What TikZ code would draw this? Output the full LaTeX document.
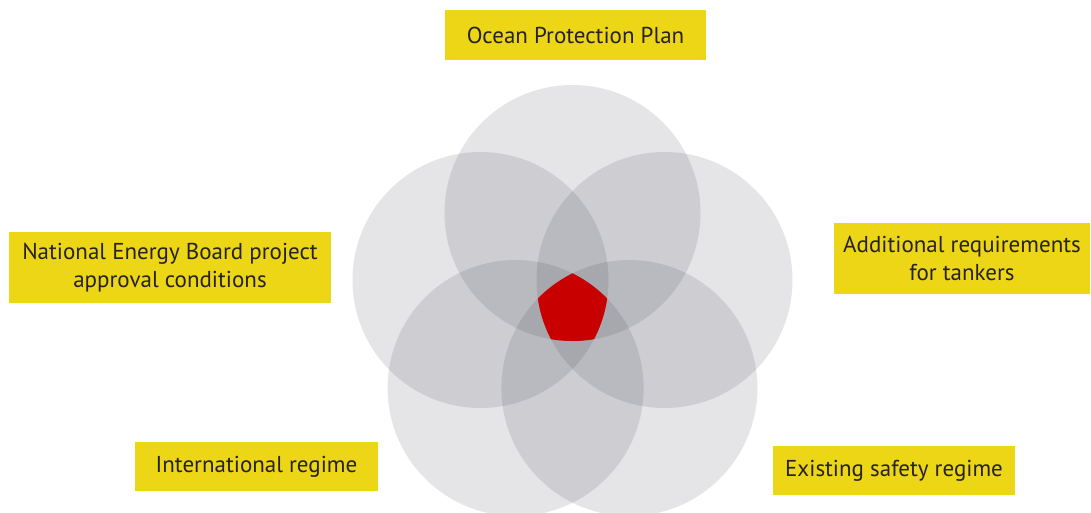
\documentclass[tikz,border=0pt]{standalone}
\usepackage{fontspec}
\setmainfont{PT Sans}
\definecolor{labelyellow}{RGB}{237,214,22}
\definecolor{labeltext}{RGB}{38,34,34}
\definecolor{coreRed}{RGB}{200,0,0}
\definecolor{ringgray}{RGB}{20,25,40}
\begin{document}
\begin{tikzpicture}[x=1pt,y=-1pt,
  ring/.style={fill=ringgray,fill opacity=0.11,draw=none},
  tag/.style={fill=labelyellow,text=labeltext,inner sep=0pt,align=center,
    font=\fontsize{23}{28}\selectfont}]
\useasboundingbox[fill=white] (0,0) rectangle (1091,512);
% circles
\coordinate (cT) at (572.5,213);
\coordinate (cL) at (480.5,280);
\coordinate (cR) at (664.5,280);
\coordinate (cBL) at (515.6,388);
\coordinate (cBR) at (629.4,388);
\foreach \c in {cT,cL,cR,cBL,cBR}{\fill[ring] (\c) circle[radius=128];}
% central intersection
\begin{scope}
  \clip (cT) circle[radius=128];
  \clip (cL) circle[radius=128];
  \clip (cR) circle[radius=128];
  \clip (cBL) circle[radius=128];
  \fill[coreRed] (cBR) circle[radius=128];
\end{scope}
% labels
\node[tag,minimum width=261,minimum height=50] (ocean) at (575.5,35) {Ocean Protection Plan};
\node[tag,minimum width=322,minimum height=71] (neb) at (170,267.5) {National Energy Board project\\approval conditions};
\node[tag,minimum width=256,minimum height=71] (add) at (962,258.5) {Additional requirements\\for tankers};
\node[tag,minimum width=243,minimum height=49] (intl) at (256.5,466.5) {International regime};
\node[tag,minimum width=242,minimum height=49] (exist) at (894,470.5) {Existing safety regime};
\end{tikzpicture}
\end{document}
